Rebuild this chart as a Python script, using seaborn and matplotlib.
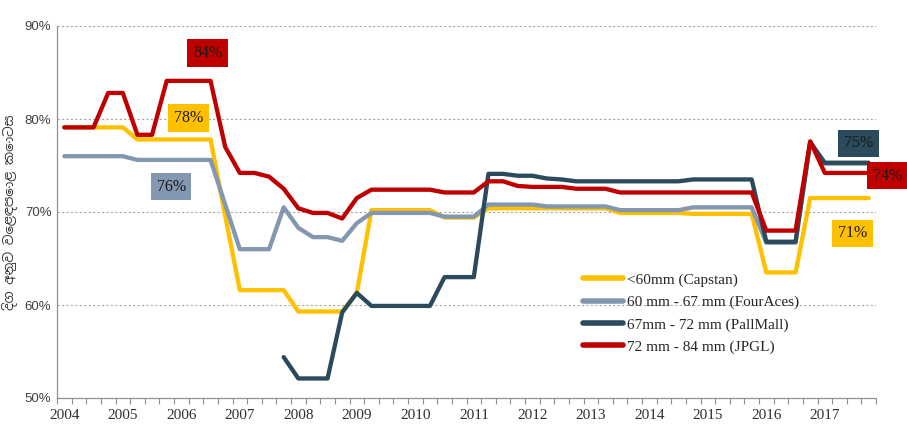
import numpy as np
import pandas as pd
import matplotlib
matplotlib.use("Agg")
import matplotlib.pyplot as plt
from matplotlib import font_manager
import seaborn as sns

# quarterly data, 2004 Q1 .. 2017 Q4
years = list(range(2004, 2018))
quarters = [f"{y}Q{q}" for y in years for q in range(1, 5)]

capstan = ([79.1] * 5 + [77.8] * 6 + [69.6] + [61.6] * 4 + [59.3] * 4 + [61.3]
           + [70.2] * 5 + [69.4] * 3 + [70.4] * 9 + [69.9] * 5 + [69.8] * 5
           + [63.5] * 3 + [71.5] * 5)
fouraces = ([76.0] * 5 + [75.6] * 6 + [70.8] + [66.0] * 3 + [70.5, 68.3, 67.3, 67.3, 66.9, 68.8]
            + [69.9] * 5 + [69.5] * 3 + [70.8] * 4 + [70.6] * 5 + [70.2] * 5 + [70.5] * 5
            + [66.7] * 3 + [77.5] + [75.2] * 4)
pallmall = ([np.nan] * 15 + [54.4] + [52.1] * 3 + [59.2, 61.3] + [59.9] * 5 + [63.0] * 3
            + [74.1] * 2 + [73.9] * 2 + [73.6, 73.5] + [73.3] * 8 + [73.5] * 5
            + [66.8] * 3 + [77.5] + [75.3] * 4)
jpgl = ([79.1] * 3 + [82.8] * 2 + [78.3] * 2 + [84.1] * 4 + [77.0] + [74.2] * 2
        + [73.8, 72.5, 70.4, 69.9, 69.9, 69.3, 71.5] + [72.4] * 5 + [72.1] * 3
        + [73.3] * 2 + [72.8] + [72.7] * 3 + [72.5] * 3 + [72.1] * 10
        + [68.0] * 3 + [77.6] + [74.2] * 4)

series_names = ["<60mm (Capstan)", "60 mm - 67 mm (FourAces)",
                "67mm - 72 mm (PallMall)", "72 mm - 84 mm (JPGL)"]
colors = ["#FFC000", "#8497B0", "#2B4A5C", "#C00000"]

callout_text = ["84%", "78%", "76%", "75%", "74%", "71%"]
callout_x = [9.8, 8.5, 7.3, 54.3, 56.3, 53.9]
callout_y = [87.1, 80.1, 72.7, 77.4, 73.9, 67.7]
callout_color = ["#C00000", "#FFC000", "#8497B0", "#2B4A5C", "#C00000", "#FFC000"]

ylabel = "දිග අනුව වෙළඳපොළ කොටස"

frames = []
for name, vals in zip(series_names, [capstan, fouraces, pallmall, jpgl]):
    frames.append(pd.DataFrame({"idx": range(len(quarters)), "share": vals, "series": name}))
df = pd.concat(frames).dropna()

sns.set_theme(style="white")
plt.rcParams['font.family'] = ['Liberation Serif', 'DejaVu Serif']

sinhala = None
for f in font_manager.fontManager.ttflist:
    if 'sinhala' in f.name.lower():
        sinhala = f.name
        break

fig = plt.figure(figsize=(9.07, 4.38), dpi=100)
ax = fig.add_axes([57 / 907, 1 - 398 / 438, (876 - 57) / 907, (398 - 26) / 438])

sns.lineplot(data=df, x="idx", y="share", hue="series", hue_order=series_names,
             palette=colors, linewidth=3.1, ax=ax, legend=True)

ax.set_xlim(-0.5, 55.5)
ax.set_ylim(50, 90)

ax.set_yticks([50, 60, 70, 80, 90])
ax.set_yticklabels([f"{v}%" for v in [50, 60, 70, 80, 90]], family='Liberation Sans',
                   fontsize=9.5, color='#404040')
ax.set_xticks(range(0, 56, 4))
ax.set_xticklabels([str(y) for y in years], fontsize=11, color='#303030')
ax.set_xticks(np.arange(-0.5, 56, 1), minor=True)
ax.tick_params(axis='x', which='major', length=0, pad=8)
ax.tick_params(axis='x', which='minor', length=4, color='#909090', width=0.8, direction='out', bottom=True)
ax.tick_params(axis='y', length=0, pad=4)

for v in [60, 70, 80, 90]:
    ax.axhline(v, color='#A6A6A6', linestyle=(0, (2, 2)), linewidth=0.8, zorder=0)

for s in ['top', 'right']:
    ax.spines[s].set_visible(False)
for s in ['left', 'bottom']:
    ax.spines[s].set_color('#909090')
    ax.spines[s].set_linewidth(0.9)

ax.set_xlabel("")
if sinhala:
    ax.set_ylabel(ylabel, family=[sinhala, 'DejaVu Sans'], fontsize=9.5, color='#333333', labelpad=5)
else:
    ax.set_ylabel(ylabel, family=['DejaVu Sans'], fontsize=9.5, color='#333333', labelpad=5)

for t, x, y, c in zip(callout_text, callout_x, callout_y, callout_color):
    ax.text(x, y, t, ha='center', va='center', fontsize=11.5, color='#1a1a1a',
            bbox=dict(boxstyle='square,pad=0.35', facecolor=c, edgecolor='none'), clip_on=False)

leg = ax.legend(loc='upper left', bbox_to_anchor=(577 / 907, 1 - 267 / 438),
                bbox_transform=fig.transFigure, frameon=False, fontsize=11,
                handlelength=2.6, handletextpad=0.3, labelspacing=0.55, borderaxespad=0)
for line in leg.get_lines():
    line.set_linewidth(4)

fig.savefig("out.png", dpi=100)
